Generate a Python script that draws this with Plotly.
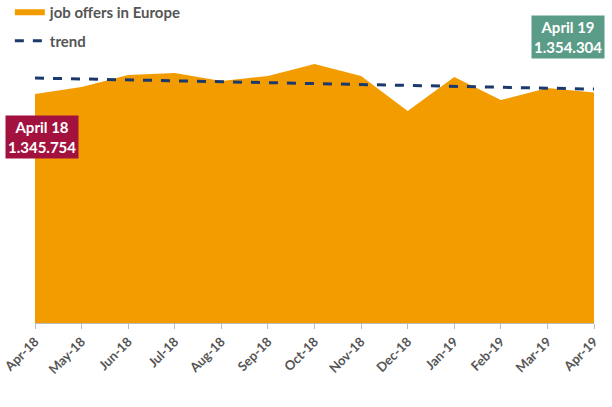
import plotly.graph_objects as go

months = ['Apr-18', 'May-18', 'Jun-18', 'Jul-18', 'Aug-18', 'Sep-18', 'Oct-18',
          'Nov-18', 'Dec-18', 'Jan-19', 'Feb-19', 'Mar-19', 'Apr-19']
offers = [1345754, 1387000, 1457500, 1469000, 1422000, 1451600, 1522000,
          1451600, 1246000, 1445700, 1310600, 1381000, 1354304]
trend_start = 1440000
trend_end = 1375000

n = len(months)
trend = [trend_start + (trend_end - trend_start) * i / (n - 1) for i in range(n)]
xs = list(range(n))

fig = go.Figure()
fig.add_trace(go.Scatter(
    x=xs, y=offers, mode='none', fill='tozeroy', fillcolor='#F39C00',
    name='<b>job offers in Europe</b>', legendgroup='a'
))
fig.add_trace(go.Scatter(
    x=xs, y=trend, mode='lines', name='<b>trend</b>', legendgroup='b',
    line=dict(color='#1B3A6B', width=3, dash='dash')
))

fig.add_annotation(x=0, y=offers[0], xref='x', yref='y', yshift=-43, xshift=-30,
                   xanchor='left',
                   text='<b>April 18<br>1.345.754</b>', showarrow=False,
                   bgcolor='#A3123F', font=dict(color='white', size=15, family='Lato'),
                   borderpad=2)
fig.add_annotation(x=n - 1, y=offers[-1], xref='x', yref='y', yshift=56, xshift=11,
                   xanchor='right',
                   text='<b>April 19<br>1.354.304</b>', showarrow=False,
                   bgcolor='#5A9C88', font=dict(color='white', size=15, family='Lato'),
                   borderpad=2)

fig.update_layout(
    width=612, height=407,
    margin=dict(l=35, r=18, t=10, b=84, autoexpand=False),
    plot_bgcolor='white', paper_bgcolor='white',
    font=dict(family='Lato', size=14, color='#444444'),
    showlegend=True,
    legend=dict(x=-0.045, y=1.045, xanchor='left', yanchor='top',
                bgcolor='rgba(0,0,0,0)', font=dict(size=15, color='#555555'),
                tracegroupgap=6),
)
fig.update_xaxes(
    tickmode='array', tickvals=xs, ticktext=['<b>%s</b>' % m for m in months],
    tickangle=-45, automargin=False,
    range=[0, n - 1], showgrid=False, showline=True, linecolor='#BBBBBB',
    ticks='outside', ticklen=5, tickcolor='#BBBBBB',
    tickfont=dict(size=13, color='#555555', family='Lato'),
)
fig.update_yaxes(range=[0, 1840000], visible=False, showgrid=False, automargin=False)

fig.write_html('out.html', config={'displayModeBar': False},
               post_script=["document.body.style.margin='0';"])
